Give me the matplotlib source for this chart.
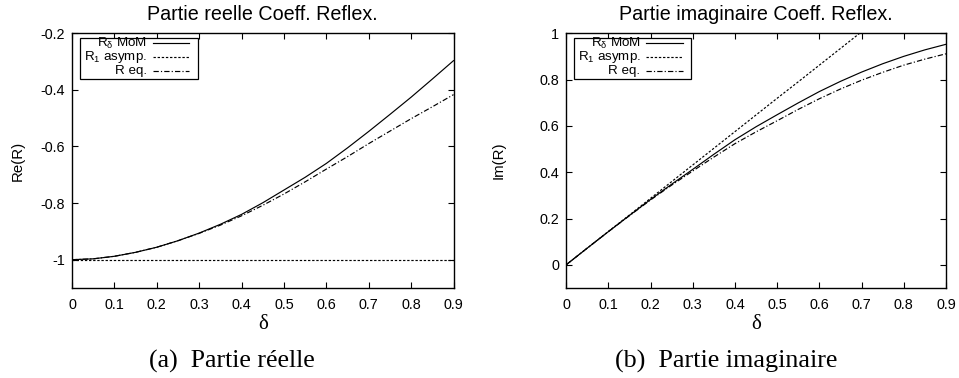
import matplotlib
matplotlib.use("Agg")
import matplotlib.pyplot as plt
from matplotlib.patches import Rectangle

plt.rcParams['font.family'] = ['Liberation Sans', 'DejaVu Sans']
plt.rcParams['mathtext.fontset'] = 'custom'
plt.rcParams['mathtext.rm'] = 'Liberation Sans'
plt.rcParams['mathtext.it'] = 'Liberation Sans:italic'
plt.rcParams['axes.unicode_minus'] = False

# valeurs
delta = [0.0, 0.05, 0.1, 0.15, 0.2, 0.25, 0.3, 0.35, 0.4, 0.45,
         0.5, 0.55, 0.6, 0.65, 0.7, 0.75, 0.8, 0.85, 0.9]

re_mom = [-1.0, -0.997, -0.988, -0.974, -0.956, -0.933, -0.906, -0.875, -0.840, -0.799,
          -0.754, -0.709, -0.660, -0.605, -0.547, -0.487, -0.426, -0.362, -0.297]
re_asym = [-1.0, -1.0, -1.0, -1.0, -1.0, -1.0, -1.0, -1.0, -1.0, -1.0,
           -1.0, -1.0, -1.0, -1.0, -1.0, -1.0, -1.0, -1.0, -1.0]
re_eq = [-1.0, -0.997, -0.988, -0.974, -0.956, -0.933, -0.907, -0.878, -0.845, -0.808,
         -0.768, -0.725, -0.680, -0.636, -0.590, -0.546, -0.502, -0.460, -0.417]

im_mom = [0.0, 0.072, 0.143, 0.213, 0.282, 0.348, 0.412, 0.477, 0.540, 0.596,
          0.648, 0.699, 0.748, 0.792, 0.832, 0.868, 0.900, 0.928, 0.952]
im_asym = [0.0, 0.072, 0.144, 0.215, 0.287, 0.359, 0.431, 0.503, 0.575, 0.647,
           0.719, 0.790, 0.862, 0.934, 1.006, 1.078, 1.150, 1.222, 1.293]
im_eq = [0.0, 0.072, 0.143, 0.212, 0.280, 0.344, 0.405, 0.465, 0.523, 0.574,
         0.622, 0.671, 0.717, 0.759, 0.797, 0.831, 0.862, 0.888, 0.911]

xticks = [0, 0.1, 0.2, 0.3, 0.4, 0.5, 0.6, 0.7, 0.8, 0.9]
xticklabels = ['0', '0.1', '0.2', '0.3', '0.4', '0.5', '0.6', '0.7', '0.8', '0.9']
re_yticks = [-1, -0.8, -0.6, -0.4, -0.2]
re_yticklabels = ['-1', '-0.8', '-0.6', '-0.4', '-0.2']
im_yticks = [0, 0.2, 0.4, 0.6, 0.8, 1]
im_yticklabels = ['0', '0.2', '0.4', '0.6', '0.8', '1']

labels = [r'R$_{\mathregular{\delta}}$ MoM', r'R$_{\mathregular{1}}$ asymp.', 'R eq.']
styles = ['-', (0, (2.0, 1.5)), (0, (4.5, 1.8, 1.0, 1.8))]

fig = plt.figure(figsize=(9.59, 3.78), dpi=100)
ax1 = fig.add_axes([0.0751, 0.2381, 0.3978, 0.6741])
ax2 = fig.add_axes([0.5903, 0.2381, 0.3961, 0.6741])


def draw_panel(ax, series, yticks, yticklabels, ylim, title, ylabel, ylab_x):
    for y, ls in zip(series, styles):
        ax.plot(delta, y, color='black', lw=0.85, linestyle=ls)
    ax.set_xlim(0, 0.9)
    ax.set_ylim(*ylim)
    ax.set_xticks(xticks)
    ax.set_xticklabels(xticklabels)
    ax.set_yticks(yticks)
    ax.set_yticklabels(yticklabels)
    ax.tick_params(direction='in', length=4, width=0.8, top=True, right=True,
                   labelsize=10.4)
    ax.tick_params(axis='y', pad=5)
    ax.tick_params(axis='x', pad=7)
    for s in ax.spines.values():
        s.set_linewidth(1.0)
    ax.text(0.5, 1.073, title, transform=ax.transAxes, ha='center', va='center',
            fontsize=14.2)
    ax.set_ylabel(ylabel, fontsize=10.8)
    ax.yaxis.set_label_coords(ylab_x, 0.5)
    ax.set_xlabel('δ', fontsize=15, family='Liberation Serif')
    ax.xaxis.set_label_coords(0.5, -0.105)

    # legende a la gnuplot
    box = Rectangle((0.021, 0.820), 0.309, 0.162, transform=ax.transAxes,
                    facecolor='white', edgecolor='black', lw=0.9, zorder=5)
    ax.add_patch(box)
    rows = [0.960, 0.905, 0.852]
    for lab, ls, yy in zip(labels, styles, rows):
        ax.text(0.196, yy, lab, transform=ax.transAxes, ha='right', va='center',
                fontsize=9.6, zorder=6)
        ax.plot([0.2115, 0.3075], [yy, yy], transform=ax.transAxes, color='black',
                lw=0.85, linestyle=ls, zorder=6)


draw_panel(ax1, [re_mom, re_asym, re_eq], re_yticks, re_yticklabels, (-1.1, -0.2),
           'Partie reelle Coeff. Reflex.', 'Re(R)', -0.123)
draw_panel(ax2, [im_mom, im_asym, im_eq], im_yticks, im_yticklabels, (-0.1, 1.0),
           'Partie imaginaire Coeff. Reflex.', 'Im(R)', -0.158)

fig.text(0.2416, 0.0431, '(a)  Partie réelle', ha='center', va='center',
         fontsize=18.6, family='Liberation Serif')
fig.text(0.7568, 0.0431, '(b)  Partie imaginaire', ha='center', va='center',
         fontsize=18.8, family='Liberation Serif')

fig.savefig('out.png', dpi=100)
